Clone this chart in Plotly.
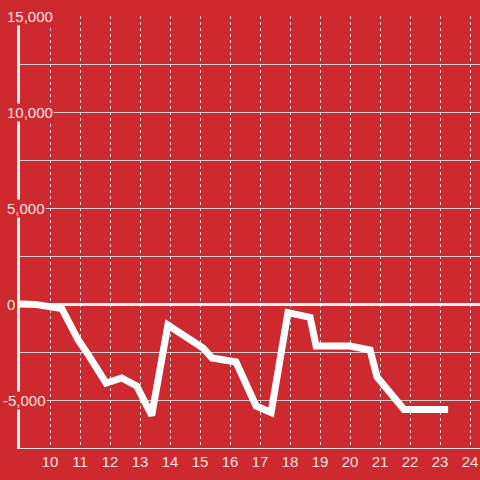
import plotly.graph_objects as go

# hora do dia (eixo x) e saldo acumulado (eixo y)
hours = [9.0, 9.5, 10.39, 10.94, 11.3, 11.87, 12.39, 12.89, 13.39, 13.93,
         15.1, 15.4, 16.2, 16.87, 17.37, 17.93, 18.67, 18.87, 20.0, 20.67,
         20.9, 21.37, 21.8, 23.27]
balance = [0, -20, -230, -1875, -2700, -4115, -3854, -4271, -5800, -1100,
           -2290, -2812, -3020, -5312, -5650, -450, -700, -2190, -2190, -2400,
           -3800, -4690, -5500, -5500]

x_ticks = list(range(10, 25))
y_grid = [-7500, -5000, -2500, 0, 2500, 5000, 7500, 10000, 12500, 15000]
y_labels = [-5000, 0, 5000, 10000, 15000]

RED = '#cd292e'
GRID = '#cfcfcf'
TEXT = '#f5e1e1'
FONT = 'Liberation Sans, Arial, sans-serif'

fig = go.Figure()
fig.add_trace(
    go.Scatter(
        x=hours,
        y=balance,
        mode='lines',
        line={'color': 'white', 'width': 7},
        hoverinfo='skip',
    )
)

# rótulos do eixo y com fundo vermelho por cima das linhas de grade
for v in y_labels:
    fig.add_annotation(
        x=0,
        xref='paper',
        y=v,
        yref='y',
        text=f'{v:,}',
        showarrow=False,
        xanchor='left',
        xshift=-18 if v < 0 else -14,
        bgcolor=RED,
        borderpad=0,
        font={'family': FONT, 'size': 15, 'color': TEXT},
    )

fig.update_layout(
    width=480,
    height=480,
    margin={'l': 20, 'r': 0, 't': 16, 'b': 32},
    paper_bgcolor=RED,
    plot_bgcolor=RED,
    showlegend=False,
    font={'family': FONT, 'size': 15, 'color': TEXT},
    xaxis={
        'range': [9, 24.333],
        'tickmode': 'array',
        'tickvals': x_ticks,
        'showgrid': True,
        'gridcolor': GRID,
        'griddash': 'dot',
        'gridwidth': 1,
        'showline': True,
        'linecolor': '#e6e0e0',
        'linewidth': 1,
        'zeroline': False,
        'ticks': '',
        'automargin': False,
        'fixedrange': True,
    },
    yaxis={
        'range': [-7500, 15000],
        'tickmode': 'array',
        'tickvals': y_grid,
        'showticklabels': False,
        'showgrid': True,
        'gridcolor': GRID,
        'gridwidth': 1,
        'showline': True,
        'linecolor': '#f4f0f0',
        'linewidth': 3,
        'zeroline': True,
        'zerolinecolor': '#f4f0f0',
        'zerolinewidth': 3,
        'ticks': '',
        'automargin': False,
        'fixedrange': True,
    },
)

# tira a margem padrão do body para a figura ocupar a janela toda
fig.write_html(
    'out.html',
    config={'displayModeBar': False},
    post_script="document.body.style.margin = '0';",
)
